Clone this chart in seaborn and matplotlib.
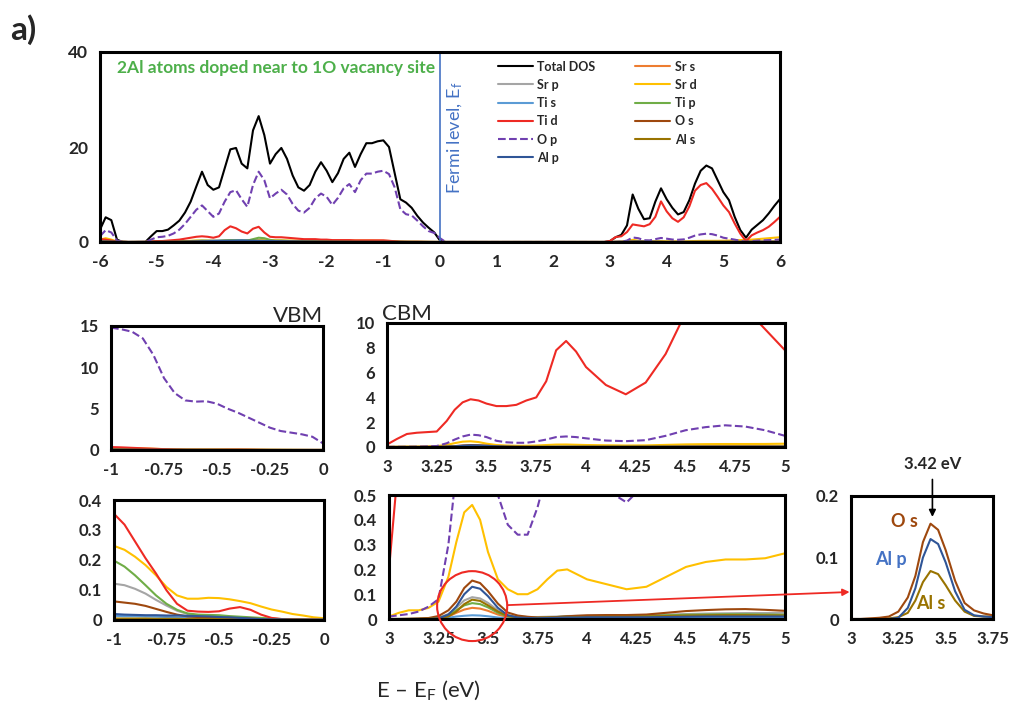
import matplotlib
matplotlib.use("Agg")
import numpy as np
import seaborn as sns
import matplotlib.pyplot as plt
from matplotlib.lines import Line2D
from matplotlib.patches import Ellipse, ConnectionPatch

# ---------------- data ----------------
# Top panel: energy grid -6..6 eV, step 0.1
TOP_E = np.round(np.linspace(-6, 6, 121), 2)
top_total = ([2.6, 5.2, 4.6, 0.5, 0, 0, 0, 0, 0, 1.2, 2.3,
              2.3, 2.6, 3.5, 4.5, 6.2, 8.5, 11.7, 14.8, 12.0, 11.0,
              11.5, 15.5, 19.5, 19.8, 16.5, 15.5, 23.5, 26.5, 22.5, 16.5,
              18.5, 19.8, 17.5, 14.0, 11.5, 10.8, 12.0, 14.8, 16.8, 15.0,
              12.6, 14.5, 17.5, 18.8, 15.8, 18.5, 20.8, 20.8, 21.2, 21.4,
              20.0, 14.5, 9.0, 8.3, 7.2, 5.5, 4.1, 3.0, 2.0, 0.3]
             + [0.0] * 29 +
             [0.2, 1.0, 1.5, 3.5, 10.0, 7.0, 4.8, 5.0, 8.5, 11.3,
              9.0, 7.2, 5.8, 6.3, 8.8, 12.3, 15.0, 16.1, 15.5, 13.0,
              10.5, 8.8, 5.3, 2.5, 0.9, 2.6, 3.6, 4.6, 6.0, 7.6, 9.05])
top_op = ([1.2, 2.5, 2.0, 0.3, 0, 0, 0, 0, 0, 0.5, 1.0,
           1.1, 1.3, 1.8, 2.6, 3.8, 5.3, 6.8, 7.7, 6.5, 5.3,
           6.0, 8.5, 10.5, 10.9, 9.0, 7.4, 12.0, 14.8, 13.0, 9.2,
           10.2, 11.0, 10.0, 8.0, 6.6, 6.2, 7.2, 9.2, 10.2, 9.5,
           7.8, 9.3, 11.3, 12.2, 10.5, 13.0, 14.4, 14.4, 14.8, 15.0,
           14.3, 11.5, 6.9, 5.85, 5.6, 4.5, 3.3, 2.3, 1.9, 0.8]
          + [0.0] * 29 +
          [0.0, 0.02, 0.05, 0.3, 0.95, 0.8, 0.38, 0.34, 0.6, 0.85,
           0.7, 0.52, 0.47, 0.55, 0.9, 1.35, 1.6, 1.75, 1.65, 1.35,
           0.9, 0.7, 0.5, 0.25, 0.05, 0.2, 0.3, 0.35, 0.4, 0.45, 0.5])
top_tid = ([0.6, 0.5, 0.3, 0.1, 0, 0, 0, 0, 0, 0.1, 0.2,
            0.2, 0.3, 0.4, 0.5, 0.7, 0.9, 1.1, 1.2, 1.1, 0.9,
            1.2, 2.5, 3.3, 2.9, 2.2, 1.8, 2.8, 3.2, 2.0, 1.1,
            1.0, 1.0, 0.9, 0.8, 0.7, 0.6, 0.6, 0.6, 0.5, 0.5,
            0.4, 0.4, 0.4, 0.4, 0.35, 0.35, 0.35, 0.35, 0.35, 0.35,
            0.26, 0.15, 0.05, 0.03, 0.03, 0.04, 0.02, 0.003, 0.001, 0.0]
           + [0.0] * 29 +
           [0.2, 1.05, 1.2, 2.1, 3.7, 3.5, 3.3, 3.75, 5.3, 8.55,
            6.45, 5.0, 4.25, 5.2, 7.5, 10.8, 12.0, 12.4, 11.2, 9.5,
            7.7, 6.3, 3.9, 1.75, 0.2, 1.4, 2.0, 2.5, 3.2, 4.2, 5.3])
top_srd = ([0.5, 0.8, 0.5, 0.1, 0, 0, 0, 0, 0, 0.05, 0.1,
            0.1, 0.1, 0.15, 0.2, 0.2, 0.25, 0.3, 0.3, 0.3, 0.3,
            0.3, 0.35, 0.4, 0.4, 0.35, 0.35, 0.4, 0.45, 0.4, 0.35,
            0.35, 0.35, 0.3, 0.3, 0.3, 0.3, 0.3, 0.3, 0.3, 0.3,
            0.3, 0.3, 0.3, 0.3, 0.3, 0.3, 0.3, 0.3, 0.28, 0.25,
            0.21, 0.15, 0.08, 0.07, 0.07, 0.06, 0.045, 0.03, 0.015, 0.006]
           + [0.0] * 29 +
           [0.01, 0.035, 0.045, 0.17, 0.45, 0.27, 0.12, 0.1, 0.16, 0.2,
            0.16, 0.14, 0.12, 0.13, 0.17, 0.21, 0.23, 0.24, 0.24, 0.245,
            0.265, 0.3, 0.35, 0.4, 0.45, 0.5, 0.6, 0.7, 0.8, 0.9, 1.0])
top_tip = ([0.3, 0.4, 0.2, 0.05, 0, 0, 0, 0, 0, 0.02, 0.05,
            0.05, 0.05, 0.1, 0.1, 0.15, 0.2, 0.25, 0.3, 0.25, 0.2,
            0.2, 0.3, 0.35, 0.3, 0.25, 0.3, 0.6, 0.9, 0.8, 0.45,
            0.3, 0.3, 0.25, 0.2, 0.2, 0.2, 0.2, 0.2, 0.2, 0.2,
            0.2, 0.2, 0.2, 0.2, 0.2, 0.2, 0.2, 0.2, 0.2, 0.2,
            0.15, 0.08, 0.03, 0.018, 0.016, 0.011, 0.007, 0.003, 0.002, 0.001]
           + [0.0] * 29 +
           [0.0, 0.0, 0.002, 0.015, 0.06, 0.047, 0.01, 0.005, 0.008, 0.01,
            0.011, 0.012, 0.012, 0.013, 0.015, 0.017, 0.018, 0.019, 0.019, 0.018,
            0.017, 0.02, 0.02, 0.02, 0.02, 0.03, 0.03, 0.04, 0.04, 0.05, 0.05])

# Top panel, minor projections read on a coarse 0.5 eV grid
TOP_MINOR_E = [-6, -5.5, -5, -4.5, -4, -3.5, -3, -2.5, -2, -1.5, -1, -0.5, 0,
               0.5, 1, 1.5, 2, 2.5, 3, 3.5, 4, 4.5, 5, 5.5, 6]
top_srs = [0.4, 0, 0.05, 0.05, 0.1, 0.1, 0.1, 0.05, 0.05, 0.05, 0.003, 0.001, 0,
           0, 0, 0, 0, 0, 0, 0.04, 0.006, 0.009, 0.01, 0.02, 0.03]
top_srp = [0.3, 0, 0.05, 0.1, 0.15, 0.15, 0.15, 0.1, 0.1, 0.1, 0.12, 0.01, 0,
           0, 0, 0, 0, 0, 0, 0.07, 0.013, 0.02, 0.025, 0.03, 0.04]
top_tis = [0.1, 0, 0.05, 0.1, 0.3, 0.4, 0.2, 0.1, 0.05, 0.05, 0.014, 0.005, 0,
           0, 0, 0, 0, 0, 0, 0.011, 0.004, 0.005, 0.006, 0.01, 0.01]
top_os = [0.2, 0, 0.05, 0.1, 0.2, 0.2, 0.2, 0.1, 0.1, 0.08, 0.062, 0.008, 0.001,
          0, 0, 0, 0, 0, 0, 0.11, 0.015, 0.032, 0.033, 0.05, 0.06]
top_als = [0.1, 0, 0.02, 0.05, 0.1, 0.1, 0.1, 0.05, 0.05, 0.02, 0.005, 0.003, 0,
           0, 0, 0, 0, 0, 0, 0.055, 0.008, 0.014, 0.014, 0.02, 0.03]
top_alp = [0.1, 0, 0.02, 0.05, 0.2, 0.3, 0.2, 0.1, 0.05, 0.03, 0.02, 0.01, 0.001,
           0, 0, 0, 0, 0, 0, 0.092, 0.007, 0.009, 0.01, 0.02, 0.02]

# VBM region: -1..0 eV, step 0.05
VBM_E = np.round(np.linspace(-1, 0, 21), 2)
vbm_op = [14.8, 14.6, 14.3, 13.5, 11.5, 8.7, 6.9, 6.0, 5.85, 5.9, 5.6, 5.0, 4.5,
          3.9, 3.3, 2.7, 2.3, 2.1, 1.9, 1.6, 0.8]
vbm_tid = [0.354, 0.318, 0.262, 0.206, 0.155, 0.099, 0.054, 0.031, 0.028, 0.027,
           0.029, 0.038, 0.043, 0.034, 0.018, 0.007, 0.003, 0.002, 0.001, 0.001, 0.0]
vbm_srd = [0.247, 0.234, 0.211, 0.183, 0.149, 0.11, 0.082, 0.071, 0.071, 0.074,
           0.073, 0.069, 0.063, 0.056, 0.045, 0.035, 0.028, 0.02, 0.015, 0.009, 0.006]
vbm_tip = [0.198, 0.178, 0.149, 0.116, 0.082, 0.054, 0.034, 0.022, 0.018, 0.017,
           0.016, 0.013, 0.011, 0.009, 0.007, 0.005, 0.003, 0.002, 0.002, 0.001, 0.001]
vbm_srp = [0.121, 0.116, 0.104, 0.088, 0.067, 0.048, 0.031, 0.02, 0.013, 0.011,
           0.009, 0.008, 0.006, 0.005, 0.004, 0.003, 0.002, 0.002, 0.001, 0.001, 0.0]
vbm_os = [0.062, 0.058, 0.054, 0.047, 0.037, 0.027, 0.018, 0.012, 0.01, 0.009,
          0.008, 0.007, 0.006, 0.005, 0.003, 0.002, 0.002, 0.001, 0.001, 0.001, 0.001]
vbm_alp = [0.02, 0.018, 0.017, 0.016, 0.016, 0.015, 0.015, 0.014, 0.013, 0.012,
           0.01, 0.009, 0.007, 0.005, 0.003, 0.002, 0.002, 0.001, 0.001, 0.001, 0.001]
vbm_tis = [0.014, 0.013, 0.013, 0.012, 0.011, 0.01, 0.009, 0.008, 0.007, 0.006,
           0.005, 0.004, 0.004, 0.003, 0.002, 0.002, 0.001, 0.001, 0.001, 0.0, 0.0]
vbm_als = [0.005, 0.005, 0.005, 0.005, 0.004, 0.004, 0.004, 0.003, 0.003, 0.003,
           0.003, 0.002, 0.002, 0.002, 0.001, 0.001, 0.001, 0.001, 0.0, 0.0, 0.0]
vbm_srs = [0.003, 0.003, 0.003, 0.002, 0.002, 0.002, 0.002, 0.002, 0.001, 0.001,
           0.001, 0.001, 0.001, 0.001, 0.001, 0.0, 0.0, 0.0, 0.0, 0.0, 0.0]

# CBM region: 3..5 eV
CBM_E = [3.00, 3.05, 3.10, 3.15, 3.20, 3.25, 3.30, 3.34, 3.38, 3.42, 3.46, 3.50,
         3.55, 3.60, 3.65, 3.70, 3.75, 3.80, 3.85, 3.90, 3.95, 4.00, 4.10, 4.20,
         4.30, 4.40, 4.50, 4.60, 4.70, 4.80, 4.90, 5.00]
cbm_tid = [0.2, 0.65, 1.05, 1.15, 1.2, 1.25, 2.1, 3.0, 3.6, 3.85, 3.75, 3.5, 3.3,
           3.3, 3.4, 3.75, 4.0, 5.3, 7.8, 8.55, 7.7, 6.45, 5.0, 4.25, 5.2, 7.5,
           10.8, 12.0, 12.4, 11.2, 9.5, 7.8]
cbm_op = [0.01, 0.015, 0.02, 0.03, 0.05, 0.08, 0.3, 0.6, 0.85, 1.0, 0.95, 0.8,
          0.5, 0.38, 0.34, 0.34, 0.45, 0.6, 0.8, 0.85, 0.8, 0.7, 0.52, 0.47,
          0.55, 0.9, 1.35, 1.6, 1.75, 1.65, 1.35, 0.9]
cbm_srd = [0.01, 0.025, 0.035, 0.035, 0.045, 0.07, 0.17, 0.31, 0.43, 0.46, 0.4,
           0.27, 0.16, 0.12, 0.1, 0.1, 0.12, 0.16, 0.195, 0.2, 0.18, 0.16, 0.14,
           0.12, 0.13, 0.17, 0.21, 0.23, 0.24, 0.24, 0.245, 0.265]
cbm_os = [0.0, 0.0, 0.001, 0.002, 0.004, 0.012, 0.035, 0.07, 0.125, 0.155, 0.145,
          0.112, 0.062, 0.026, 0.014, 0.009, 0.006, 0.006, 0.008, 0.011, 0.013,
          0.015, 0.016, 0.016, 0.018, 0.025, 0.032, 0.036, 0.039, 0.04, 0.037, 0.033]
cbm_alp = [0.0, 0.0, 0.0, 0.0, 0.0, 0.002, 0.018, 0.05, 0.1, 0.13, 0.122, 0.092,
           0.045, 0.015, 0.006, 0.004, 0.003, 0.004, 0.005, 0.006, 0.006, 0.007,
           0.007, 0.007, 0.007, 0.008, 0.009, 0.01, 0.01, 0.01, 0.01, 0.01]
cbm_als = [0.0, 0.0, 0.0, 0.0, 0.001, 0.003, 0.01, 0.03, 0.06, 0.078, 0.073,
           0.055, 0.03, 0.012, 0.005, 0.004, 0.004, 0.005, 0.006, 0.007, 0.008,
           0.008, 0.009, 0.009, 0.01, 0.012, 0.014, 0.015, 0.016, 0.016, 0.015, 0.014]
cbm_srp = [0.0, 0.0, 0.0, 0.001, 0.002, 0.005, 0.02, 0.045, 0.075, 0.088, 0.083,
           0.065, 0.035, 0.015, 0.01, 0.008, 0.008, 0.009, 0.01, 0.012, 0.013,
           0.013, 0.014, 0.014, 0.015, 0.018, 0.02, 0.022, 0.023, 0.024, 0.024, 0.025]
cbm_tip = [0.0, 0.0, 0.0, 0.001, 0.002, 0.004, 0.015, 0.035, 0.055, 0.064, 0.06,
           0.047, 0.025, 0.01, 0.006, 0.005, 0.005, 0.006, 0.008, 0.01, 0.011,
           0.011, 0.012, 0.012, 0.013, 0.015, 0.017, 0.018, 0.019, 0.019, 0.018, 0.017]
cbm_srs = [0.0, 0.0, 0.0, 0.0, 0.001, 0.003, 0.01, 0.025, 0.038, 0.045, 0.042,
           0.033, 0.018, 0.008, 0.004, 0.003, 0.003, 0.004, 0.005, 0.006, 0.006,
           0.006, 0.007, 0.007, 0.007, 0.008, 0.009, 0.01, 0.01, 0.01, 0.01, 0.01]
cbm_tis = [0.0, 0.0, 0.0, 0.0, 0.0, 0.001, 0.005, 0.01, 0.013, 0.015, 0.014,
           0.011, 0.006, 0.003, 0.002, 0.002, 0.002, 0.003, 0.003, 0.004, 0.004,
           0.004, 0.004, 0.004, 0.004, 0.005, 0.005, 0.006, 0.006, 0.006, 0.006, 0.006]

# series metadata
SERIES = ["total", "srs", "srp", "srd", "tis", "tip", "tid", "os", "op", "als", "alp"]
LABELS = {"total": "Total DOS", "srs": "Sr s", "srp": "Sr p", "srd": "Sr d",
          "tis": "Ti s", "tip": "Ti p", "tid": "Ti d", "os": "O s", "op": "O p",
          "als": "Al s", "alp": "Al p"}
COLORS = {"total": "#000000", "srs": "#ED7D31", "srp": "#A5A5A5", "srd": "#FFC000",
          "tis": "#5B9BD5", "tip": "#70AD47", "tid": "#EE2A24", "os": "#9E480E",
          "op": "#7040B0", "als": "#997300", "alp": "#2F5597"}

TOP_XTICKS = [-6, -5, -4, -3, -2, -1, 0, 1, 2, 3, 4, 5, 6]
TOP_YTICKS = [0, 20, 40]
VBM_XTICKS = [-1, -0.75, -0.5, -0.25, 0]
VBM_XLABELS = ["-1", "-0.75", "-0.5", "-0.25", "0"]
VBM_Y1 = [0, 5, 10, 15]
VBM_Y2 = [0, 0.1, 0.2, 0.3, 0.4]
CBM_XTICKS = [3, 3.25, 3.5, 3.75, 4, 4.25, 4.5, 4.75, 5]
CBM_Y1 = [0, 2, 4, 6, 8, 10]
CBM_Y2 = [0, 0.1, 0.2, 0.3, 0.4, 0.5]
ZOOM_XTICKS = [3, 3.25, 3.5, 3.75]
ZOOM_YTICKS = [0, 0.1, 0.2]

# ---------------- style ----------------
sns.set_style("white")
plt.rcParams["font.family"] = ["Lato", "DejaVu Sans"]
plt.rcParams["mathtext.fontset"] = "custom"
plt.rcParams["mathtext.rm"] = "Lato"
plt.rcParams["mathtext.it"] = "Lato:italic"
plt.rcParams["mathtext.bf"] = "Lato:bold"

fig = plt.figure(figsize=(10.14, 7.04), dpi=100)
W, H = 1014.0, 704.0


def add_ax(x0, y0, x1, y1):
    return fig.add_axes([x0 / W, 1 - y1 / H, (x1 - x0) / W, (y1 - y0) / H])


def fmt(v):
    return "%g" % v


def style(ax, xlim, xticks, xlabels, ylim, yticks, fs=12):
    ax.set_xlim(*xlim)
    ax.set_ylim(*ylim)
    ax.set_xticks(xticks)
    ax.set_xticklabels(xlabels, fontweight="bold", fontsize=fs)
    ax.set_yticks(yticks)
    ax.set_yticklabels([fmt(v) for v in yticks], fontweight="bold", fontsize=fs)
    ax.tick_params(direction="out", length=5.5, width=2.0, color="black", pad=3)
    for s in ax.spines.values():
        s.set_visible(True)
        s.set_color("black")
        s.set_linewidth(2.2)
    ax.set_xlabel("")
    ax.set_ylabel("")


def draw(ax, x, y, key, lw=1.5):
    ls = "--" if key == "op" else "-"
    sns.lineplot(x=list(x), y=list(y), ax=ax, color=COLORS[key], linestyle=ls,
                 linewidth=lw, legend=False, sort=False)


# ---------------- top panel ----------------
ax_top = add_ax(100, 52, 780, 242)
top_data = {"total": (TOP_E, top_total), "srs": (TOP_MINOR_E, top_srs),
            "srp": (TOP_MINOR_E, top_srp), "srd": (TOP_E, top_srd),
            "tis": (TOP_MINOR_E, top_tis), "tip": (TOP_E, top_tip),
            "tid": (TOP_E, top_tid), "os": (TOP_MINOR_E, top_os),
            "op": (TOP_E, top_op), "als": (TOP_MINOR_E, top_als),
            "alp": (TOP_MINOR_E, top_alp)}
for k in SERIES:
    draw(ax_top, *top_data[k], k)
ax_top.axvline(0, color="#4472C4", lw=1.2)
style(ax_top, (-6, 6), TOP_XTICKS, [str(t) for t in TOP_XTICKS], (0, 40), TOP_YTICKS,
      fs=12.5)
ax_top.text(0.025, 0.915, "2Al atoms doped near to 1O vacancy site",
            transform=ax_top.transAxes, color="#4DAF4A", fontsize=12.5,
            fontweight="bold", va="center", ha="left")
ax_top.text(0.27, 22.0, "Fermi level, E$_\\mathrm{f}$", rotation=90,
            color="#4472C4", fontsize=13, ha="center", va="center")

order = ["total", "srp", "tis", "tid", "op", "alp", "srs", "srd", "tip", "os", "als"]
handles = [Line2D([], [], color=COLORS[k], lw=1.5,
                  linestyle="--" if k == "op" else "-") for k in order]
ax_top.legend(handles, [LABELS[k] for k in order], ncol=2, loc="upper left",
              bbox_to_anchor=(0.585, 0.955), frameon=False,
              prop={"weight": "bold", "size": 9}, handlelength=2.8,
              handletextpad=0.35, columnspacing=3.2, labelspacing=0.5,
              borderpad=0.0, borderaxespad=0.0)

fig.text(0.010, 0.958, "a)", fontsize=24, fontweight="bold", va="center", ha="left")

# ---------------- VBM panels ----------------
vbm_data = {"srs": vbm_srs, "srp": vbm_srp, "srd": vbm_srd, "tis": vbm_tis,
            "tip": vbm_tip, "tid": vbm_tid, "os": vbm_os, "op": vbm_op,
            "als": vbm_als, "alp": vbm_alp}
ax_v1 = add_ax(111, 326, 323, 450)
ax_v2 = add_ax(114, 500, 324, 620)
for ax in (ax_v1, ax_v2):
    for k in SERIES[1:]:
        draw(ax, VBM_E, vbm_data[k], k)
style(ax_v1, (-1, 0), VBM_XTICKS, VBM_XLABELS, (0, 15), VBM_Y1)
style(ax_v2, (-1, 0), VBM_XTICKS, VBM_XLABELS, (0, 0.4), VBM_Y2)
ax_v1.text(1.0, 1.0, "VBM", transform=ax_v1.transAxes, ha="right", va="bottom",
           fontsize=16)

# ---------------- CBM panels ----------------
cbm_data = {"srs": cbm_srs, "srp": cbm_srp, "srd": cbm_srd, "tis": cbm_tis,
            "tip": cbm_tip, "tid": cbm_tid, "os": cbm_os, "op": cbm_op,
            "als": cbm_als, "alp": cbm_alp}
ax_c1 = add_ax(387, 323, 785, 447)
ax_c2 = add_ax(389, 495, 785, 619)
for ax in (ax_c1, ax_c2):
    for k in SERIES[1:]:
        draw(ax, CBM_E, cbm_data[k], k)
style(ax_c1, (3, 5), CBM_XTICKS, [fmt(t) for t in CBM_XTICKS], (0, 10), CBM_Y1)
style(ax_c2, (3, 5), CBM_XTICKS, [fmt(t) for t in CBM_XTICKS], (0, 0.5), CBM_Y2)
ax_c1.text(-0.012, 0.99, "CBM", transform=ax_c1.transAxes, ha="left", va="bottom",
           fontsize=16)

# ---------------- zoom panel ----------------
ax_z = add_ax(851, 496, 993, 619)
for k in ["tid", "als", "alp", "os"]:
    draw(ax_z, CBM_E, cbm_data[k], k)
style(ax_z, (3, 3.75), ZOOM_XTICKS, [fmt(t) for t in ZOOM_XTICKS], (0, 0.2),
      ZOOM_YTICKS)
ax_z.text(3.28, 0.158, "O s", color="#9E480E", fontsize=13, fontweight="bold",
          ha="center", va="center")
ax_z.text(3.21, 0.097, "Al p", color="#4472C4", fontsize=13, fontweight="bold",
          ha="center", va="center")
ax_z.text(3.42, 0.025, "Al s", color="#997300", fontsize=13, fontweight="bold",
          ha="center", va="center")
ax_z.annotate("3.42 eV", xy=(3.43, 0.166), xytext=(3.43, 0.252),
              textcoords="data", ha="center", va="center", fontsize=12,
              fontweight="bold", annotation_clip=False,
              arrowprops=dict(arrowstyle="-|>", color="black", lw=1.2,
                              mutation_scale=10, shrinkA=3, shrinkB=0))

# red circle + arrow
circ = Ellipse((3.42, 0.052), width=0.354, height=0.282, transform=ax_c2.transData,
               fill=False, edgecolor="#EE2A24", lw=1.5, clip_on=False, zorder=5)
ax_c2.add_patch(circ)
con = ConnectionPatch(xyA=(3.60, 0.056), coordsA=ax_c2.transData,
                      xyB=(3.0, 0.044), coordsB=ax_z.transData,
                      arrowstyle="-|>", color="#EE2A24", lw=1.3, mutation_scale=10,
                      shrinkA=0, shrinkB=1, zorder=6)
fig.add_artist(con)

fig.text(428 / W, 1 - 690 / H, "E – E$_\\mathrm{F}$ (eV)", fontsize=16,
         ha="center", va="center")

fig.savefig("out.png", dpi=100)
